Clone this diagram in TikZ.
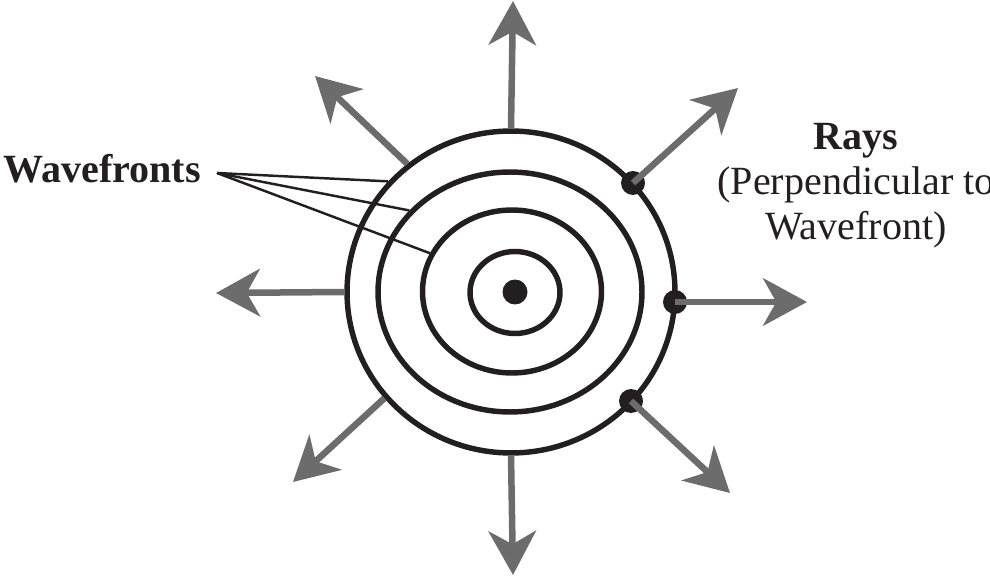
\documentclass[tikz,border=0pt]{standalone}
\usepackage{fontspec}
\setmainfont{Liberation Serif}
\usetikzlibrary{arrows.meta,shapes.geometric}
\definecolor{raygray}{RGB}{108,108,108}
\definecolor{ink}{RGB}{35,31,32}

\begin{document}
\begin{tikzpicture}[x=0.02cm,y=-0.02cm,
 wave/.style={ellipse,draw=ink,line width=3.1pt,inner sep=0pt},
 dot/.style={circle,fill=ink,inner sep=0pt,minimum size=0.48cm},
 rayarrow/.style={draw=raygray,line width=3.7pt,-{Stealth[length=25pt,width=27pt,inset=7.5pt]}},
 lead/.style={draw=ink,line width=1.4pt},
 txt/.style={font=\fontsize{22.8}{25.6}\selectfont,text=ink,inner sep=0pt}]
\useasboundingbox (0,0) rectangle (990,577);

\node [wave,minimum width=6.56cm,minimum height=6.44cm] (w1) at (511,292) {};
\node [wave,minimum width=5.28cm,minimum height=4.8cm] (w2) at (510,292) {};
\node [wave,minimum width=3.58cm,minimum height=3.26cm] (w3) at (512,291.5) {};
\node [wave,minimum width=1.8cm,minimum height=1.64cm] (w4) at (515,292.5) {};
\node [dot,minimum size=0.5cm] (src) at (515,292) {};

\foreach \n/\x/\y in {1/513/1, 2/315/76, 3/216/293, 4/293/482, 5/513/575}
  \coordinate (t\n) at (\x,\y);
\foreach \a/\n in {90/1, 129/2, 180/3, 220/4, 270/5}
  \draw [rayarrow] (w1.\a) -- (t\n);

\node [dot] (d1) at (633,183) {};
\node [dot] (d2) at (675,302) {};
\node [dot] (d3) at (631,401) {};
\coordinate (t6) at (738,88);
\coordinate (t7) at (807,302);
\coordinate (t8) at (730,493);
\foreach \d/\n in {1/6, 2/7, 3/8}
  \draw [rayarrow] (d\d.center) -- (t\n);

\node [txt,anchor=base east] (wf) at (201,183) {\bfseries Wavefronts};
\coordinate (fan) at (217,173);
\draw [lead] (fan) -- (w1.138);
\draw [lead] (fan) -- (w2.141);
\draw [lead] (fan) -- (w3.155);

\node [txt,align=center,anchor=north] (rays) at (856,123) {\textbf{Rays}\\(Perpendicular to\\Wavefront)};
\end{tikzpicture}
\end{document}
